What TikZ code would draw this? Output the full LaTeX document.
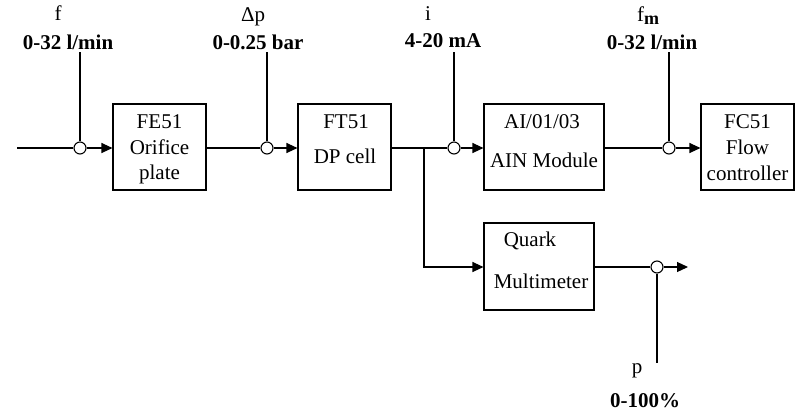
\documentclass[tikz,border=0pt]{standalone}
\usepackage{fontspec}
\setmainfont{Liberation Serif}
\usetikzlibrary{arrows.meta}
\begin{document}
\begin{tikzpicture}[x=1pt,y=-1pt,line width=1.1pt,
  blk/.style={draw,rectangle,inner sep=0pt,minimum height=86pt},
  jn/.style={draw,circle,minimum size=12pt,inner sep=0pt},
  lbl/.style={anchor=base,inner sep=0pt,font=\fontsize{21}{25}\selectfont},
  blbl/.style={anchor=base,inner sep=0pt,font=\fontsize{21}{25}\selectfont\bfseries},
  arr/.style={-{Triangle[length=11pt,width=10pt]}}]
\useasboundingbox (0,0) rectangle (800,413);
% blocks
\node[blk,minimum width=93pt] (fe) at (159.5,147) {};
\node[blk,minimum width=93pt] (ft) at (344.5,147) {};
\node[blk,minimum width=120pt] (ai) at (544,147) {};
\node[blk,minimum width=93pt] (fc) at (747.5,147) {};
\node[blk,minimum width=110pt,minimum height=87pt] (q) at (539,266.5) {};
% junction circles
\node[jn] (c1) at (80,148) {};
\node[jn] (c2) at (267,148) {};
\node[jn] (c3) at (454,148) {};
\node[jn] (c4) at (669,148) {};
\node[jn] (c5) at (657,267) {};
% free ends
\coordinate (in) at (17,148);
\coordinate (t1) at (80,52);
\coordinate (t2) at (267,52);
\coordinate (t3) at (454,52);
\coordinate (t4) at (669,52);
\coordinate (j) at (424,148);
\coordinate (jb) at (424,267);
\coordinate (out) at (688,267);
\coordinate (b5) at (657,363);
% connectors
\draw (in) -- (c1);
\draw[arr] (c1) -- (fe.west |- c1);
\draw (fe.east |- c2) -- (c2);
\draw[arr] (c2) -- (ft.west |- c2);
\draw (ft.east |- c3) -- (c3);
\draw[arr] (c3) -- (ai.west |- c3);
\draw (ai.east |- c4) -- (c4);
\draw[arr] (c4) -- (fc.west |- c4);
\draw[arr] (j) -- (jb) -- (q.west |- jb);
\draw (q.east |- c5) -- (c5);
\draw[arr] (c5) -- (out);
\draw (t1) -- (c1);
\draw (t2) -- (c2);
\draw (t3) -- (c3);
\draw (t4) -- (c4);
\draw (c5) -- (b5);
% block texts
\node[lbl] (fe1) at (159.5,128) {FE51};
\node[lbl] (fe2) at (159.5,154) {Orifice};
\node[lbl] (fe3) at (159.5,179) {plate};
\node[lbl] (ft1) at (346,128) {FT51};
\node[lbl] (ft2) at (345,163) {DP cell};
\node[lbl] (ai1) at (542,128) {AI/01/03};
\node[lbl] (ai2) at (544,167) {AIN Module};
\node[lbl] (fc1) at (747.5,128) {FC51};
\node[lbl] (fc2) at (747.5,154) {Flow};
\node[lbl] (fc3) at (747.5,180) {controller};
\node[lbl] (q1) at (530,246) {Quark};
\node[lbl] (q2) at (541,288) {Multimeter};
% signal labels
\node[lbl] (lf) at (58,20) {f};
\node[blbl] (lf2) at (68,49) {0-32 l/min};
\node[lbl] (ldp) at (253,21) {Δp};
\node[blbl] (ldp2) at (258,49) {0-0.25 bar};
\node[lbl] (li) at (428,20) {i};
\node[blbl] (li2) at (443,47) {4-20 mA};
\node[lbl] (lfm) at (648,21) {f\raisebox{-3pt}{\fontsize{18}{20}\selectfont\bfseries m}};
\node[blbl] (lfm2) at (652,49) {0-32 l/min};
\node[lbl] (lp) at (637,373) {p};
\node[blbl] (lp2) at (645,407) {0-100\%};
\end{tikzpicture}
\end{document}
